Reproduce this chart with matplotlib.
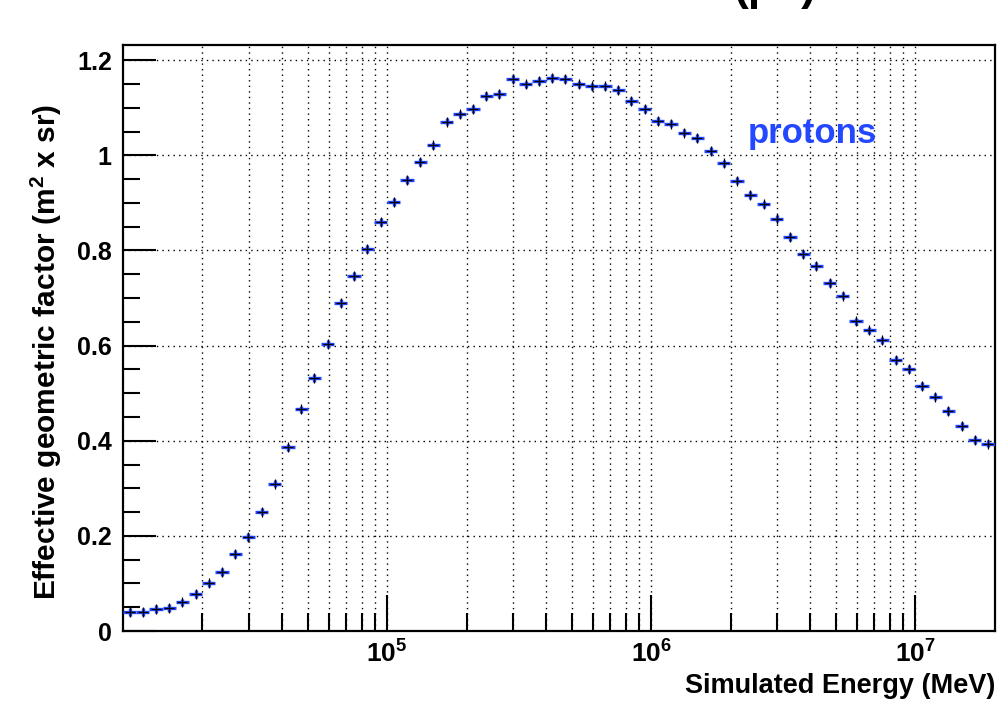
import numpy as np
import matplotlib
matplotlib.use("Agg")
import matplotlib.pyplot as plt
from matplotlib.ticker import FixedLocator, FuncFormatter

plt.rcParams['font.family'] = ['Liberation Sans', 'DejaVu Sans']
plt.rcParams['mathtext.fontset'] = 'custom'
plt.rcParams['mathtext.rm'] = 'Liberation Sans'
plt.rcParams['mathtext.bf'] = 'Liberation Sans:bold'

# log-spaced bins, 20 per decade from 1e4 to 2e7
log_lo = 4.0
bins_per_decade = 20
n_bins = 66

# acceptance per bin (m^2 sr)
acceptance = [0.040, 0.040, 0.046, 0.048, 0.060, 0.078, 0.100, 0.124, 0.162, 0.198,
              0.251, 0.310, 0.386, 0.466, 0.532, 0.604, 0.689, 0.746, 0.803, 0.860,
              0.902, 0.948, 0.986, 1.021, 1.071, 1.086, 1.098, 1.125, 1.129, 1.160,
              1.149, 1.156, 1.163, 1.160, 1.149, 1.145, 1.145, 1.138, 1.114, 1.098,
              1.072, 1.067, 1.048, 1.036, 1.009, 0.983, 0.947, 0.917, 0.897, 0.867,
              0.828, 0.793, 0.767, 0.732, 0.705, 0.651, 0.632, 0.611, 0.570, 0.551,
              0.515, 0.493, 0.462, 0.431, 0.401, 0.394]
acc_err = 0.008

x_labels = [1e5, 1e6, 1e7]

edges = 10 ** (log_lo + np.arange(n_bins + 1) / bins_per_decade)
centers = np.sqrt(edges[:-1] * edges[1:])
y = np.array(acceptance)

fig = plt.figure(figsize=(10.08, 7.09), dpi=100)
ax = fig.add_axes([0.122, 0.110, 0.865, 0.8265])

ax.set_xscale('log')
ax.set_xlim(1e4, 2e7)
ax.set_ylim(0, 1.232)

# ROOT-like grid
ax.xaxis.set_major_locator(FixedLocator(x_labels))
minors = [m * 10 ** e for e in range(4, 8) for m in range(2, 10) if m * 10 ** e < 2e7]
ax.xaxis.set_minor_locator(FixedLocator(minors))
ax.xaxis.set_major_formatter(FuncFormatter(lambda v, p: r'$\mathbf{10^{%d}}$' % round(np.log10(v))))
ax.xaxis.set_minor_formatter(FuncFormatter(lambda v, p: ''))
ax.set_yticks(np.arange(0, 1.21, 0.2))
ax.set_yticks(np.arange(0, 1.23, 0.05), minor=True)
ax.set_yticklabels(['0', '0.2', '0.4', '0.6', '0.8', '1', '1.2'])

ax.grid(True, which='major', axis='both', color='black', linestyle=(0, (1, 3)), linewidth=1)
ax.grid(True, which='minor', axis='x', color='black', linestyle=(0, (1, 3)), linewidth=1)

ax.tick_params(which='both', direction='in', top=False, right=False, width=1.5)
ax.tick_params(axis='y', which='major', length=24, pad=8, labelsize=18)
ax.tick_params(axis='y', which='minor', length=12)
ax.tick_params(axis='x', which='major', length=26, pad=7, labelsize=19)
ax.tick_params(axis='x', which='minor', length=13)
for lab in ax.get_yticklabels():
    lab.set_fontweight('bold')
for s in ax.spines.values():
    s.set_linewidth(1.6)

xerr = np.vstack([centers - edges[:-1], edges[1:] - centers])
ax.errorbar(centers, y, xerr=xerr, yerr=acc_err, fmt='none', ecolor='#2448ff',
            elinewidth=2.4, capsize=0, zorder=3)
ax.plot(centers, y, '+', color='black', markersize=7, markeredgewidth=0.9, zorder=4)

ax.text(0.716, 0.833, 'protons', transform=ax.transAxes, color='#2448ff',
        fontsize=25, fontweight='bold', va='baseline')

ax.set_xlabel('Simulated Energy (MeV)', fontsize=19.5, fontweight='bold', loc='right',
              labelpad=4)
ax.set_ylabel(r'Effective geometric factor (m$^{\mathbf{2}}$ x sr)', fontsize=21.5,
              fontweight='bold')
ax.yaxis.set_label_coords(-0.068, 0.476)

fig.text(0.81, 1.0, '(p+)', fontsize=32, fontweight='bold', ha='right', va='baseline')

fig.savefig('out.png', dpi=100)
